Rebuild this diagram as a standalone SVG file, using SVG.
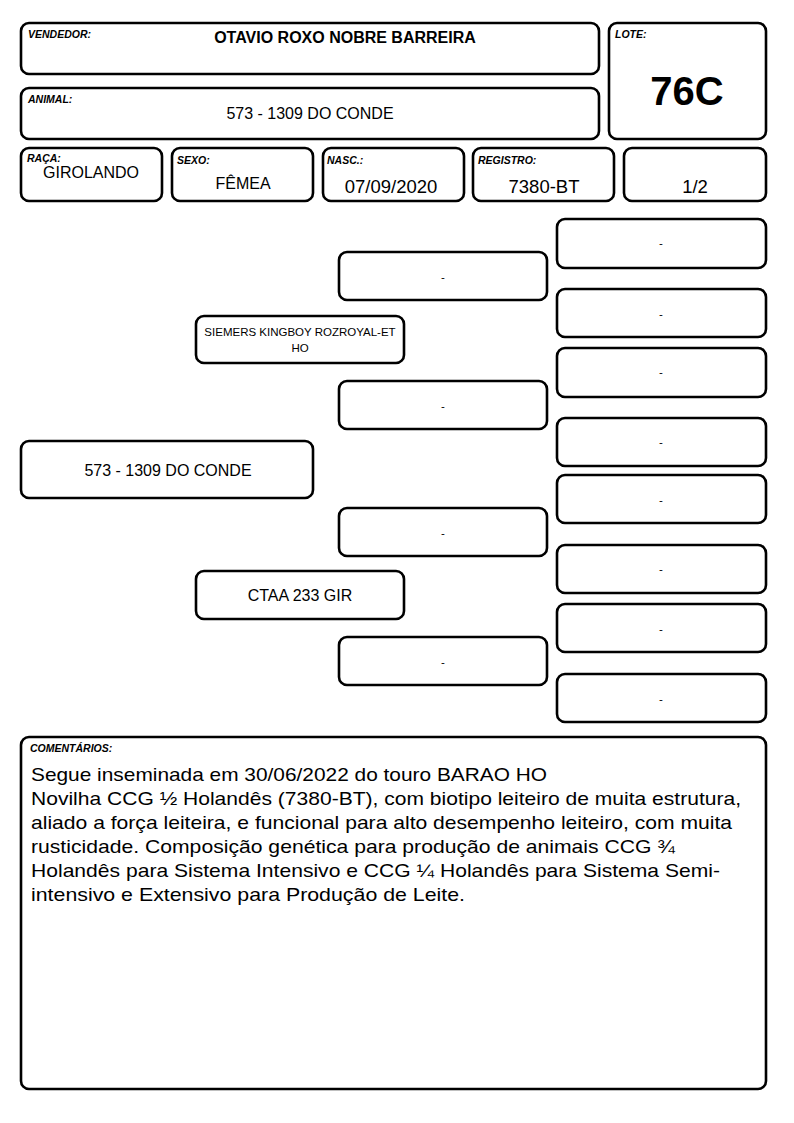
<svg xmlns="http://www.w3.org/2000/svg" width="794" height="1123" viewBox="0 0 794 1123">
<style>
.b{fill:#fff;stroke:#000;stroke-width:2.6}
text{font-family:"Liberation Sans",Arial,sans-serif;fill:#000}
.lbl{font-size:10.5px;font-weight:bold;font-style:italic}
.v{font-size:16px;text-anchor:middle}
.v18{font-size:18.5px;text-anchor:middle}
.d{font-size:11.5px;text-anchor:middle}
.c{font-size:19px}
</style>
<rect width="794" height="1123" fill="#fff"/>
<g id="vendedor"><rect class="b" x="21" y="23" width="578" height="51" rx="8"/><text class="lbl" x="28" y="38">VENDEDOR:</text><text class="v" x="345" y="43" font-weight="bold">OTAVIO ROXO NOBRE BARREIRA</text></g>
<g id="lote"><rect class="b" x="609" y="23" width="157" height="116" rx="8"/><text class="lbl" x="615" y="38">LOTE:</text><text x="687" y="105" font-size="40" font-weight="bold" text-anchor="middle">76C</text></g>
<g id="animal"><rect class="b" x="21" y="88" width="578" height="51" rx="8"/><text class="lbl" x="28" y="103">ANIMAL:</text><text class="v" x="310" y="119">573 - 1309 DO CONDE</text></g>
<g id="raca"><rect class="b" x="21" y="148" width="141" height="53" rx="8"/><text class="lbl" x="27" y="162">RAÇA:</text><text class="v" x="91" y="178" font-size="14.2">GIROLANDO</text></g>
<g id="sexo"><rect class="b" x="172" y="148" width="141" height="53" rx="8"/><text class="lbl" x="177" y="164">SEXO:</text><text class="v" x="243" y="189" font-size="14">FÊMEA</text></g>
<g id="nasc"><rect class="b" x="323" y="148" width="141" height="53" rx="8"/><text class="lbl" x="327" y="164">NASC.:</text><text class="v18" x="391" y="193">07/09/2020</text></g>
<g id="registro"><rect class="b" x="473" y="148" width="141" height="53" rx="8"/><text class="lbl" x="478" y="164">REGISTRO:</text><text class="v18" x="544" y="193">7380-BT</text></g>
<g id="fracao"><rect class="b" x="624" y="148" width="142" height="53" rx="8"/><text class="v18" x="695" y="193">1/2</text></g>
<g id="connectors"></g>
<g id="ped-animal"><rect class="b" x="21" y="441" width="292" height="57" rx="8"/><text class="v" x="168" y="476">573 - 1309 DO CONDE</text></g>
<g id="pai"><rect class="b" x="196" y="316" width="208" height="47" rx="8"/><text class="d" x="300" y="336">SIEMERS KINGBOY ROZROYAL-ET</text><text class="d" x="300" y="352">HO</text></g>
<g id="mae"><rect class="b" x="196" y="571" width="208" height="48" rx="8"/><text class="v" x="300" y="601">CTAA 233 GIR</text></g>
<g id="avo1"><rect class="b" x="339" y="252" width="208" height="48" rx="8"/><text class="d" x="443" y="281">-</text></g>
<g id="avo2"><rect class="b" x="339" y="381" width="208" height="48" rx="8"/><text class="d" x="443" y="410">-</text></g>
<g id="avo3"><rect class="b" x="339" y="508" width="208" height="48" rx="8"/><text class="d" x="443" y="537">-</text></g>
<g id="avo4"><rect class="b" x="339" y="637" width="208" height="48" rx="8"/><text class="d" x="443" y="666">-</text></g>
<g id="bis1"><rect class="b" x="557" y="219" width="209" height="49" rx="8"/><text class="d" x="661" y="247">-</text></g>
<g id="bis2"><rect class="b" x="557" y="289" width="209" height="48" rx="8"/><text class="d" x="661" y="318">-</text></g>
<g id="bis3"><rect class="b" x="557" y="348" width="209" height="49" rx="8"/><text class="d" x="661" y="376">-</text></g>
<g id="bis4"><rect class="b" x="557" y="418" width="209" height="48" rx="8"/><text class="d" x="661" y="446">-</text></g>
<g id="bis5"><rect class="b" x="557" y="475" width="209" height="48" rx="8"/><text class="d" x="661" y="504">-</text></g>
<g id="bis6"><rect class="b" x="557" y="545" width="209" height="48" rx="8"/><text class="d" x="661" y="573">-</text></g>
<g id="bis7"><rect class="b" x="557" y="604" width="209" height="48" rx="8"/><text class="d" x="661" y="633">-</text></g>
<g id="bis8"><rect class="b" x="557" y="674" width="209" height="48" rx="8"/><text class="d" x="661" y="703">-</text></g>
<g id="comentarios"><rect class="b" x="21" y="737" width="745" height="352" rx="8"/><text class="lbl" x="30" y="752" font-size="11">COMENTÁRIOS:</text>
<text class="c" x="31" y="781" textLength="516" lengthAdjust="spacingAndGlyphs">Segue inseminada em 30/06/2022 do touro BARAO HO</text>
<text class="c" x="31" y="805" textLength="710" lengthAdjust="spacingAndGlyphs">Novilha CCG ½ Holandês (7380-BT), com biotipo leiteiro de muita estrutura,</text>
<text class="c" x="31" y="829" textLength="701" lengthAdjust="spacingAndGlyphs">aliado a força leiteira, e funcional para alto desempenho leiteiro, com muita</text>
<text class="c" x="31" y="853" textLength="644" lengthAdjust="spacingAndGlyphs">rusticidade. Composição genética para produção de animais CCG ¾</text>
<text class="c" x="31" y="877" textLength="689" lengthAdjust="spacingAndGlyphs">Holandês para Sistema Intensivo e CCG ¼ Holandês para Sistema Semi-</text>
<text class="c" x="31" y="901" textLength="434" lengthAdjust="spacingAndGlyphs">intensivo e Extensivo para Produção de Leite.</text>
</g>
</svg>
